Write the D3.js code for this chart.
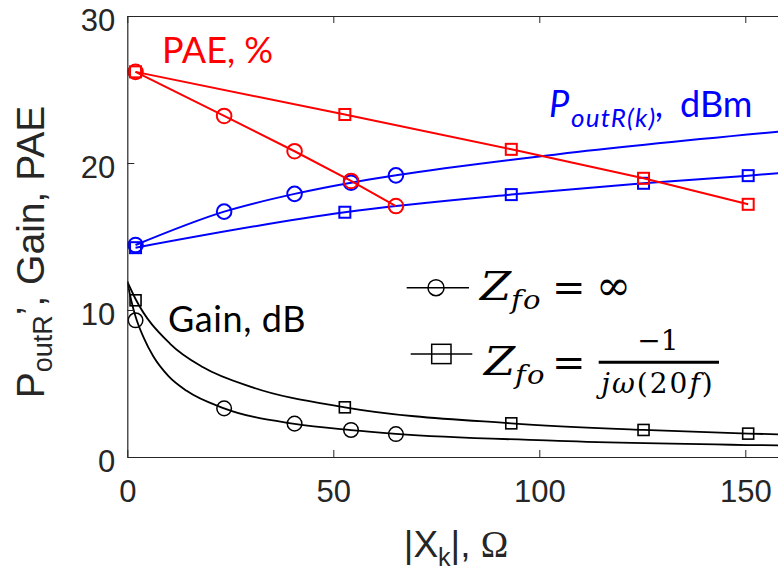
<!DOCTYPE html>
<html>
<head>
<meta charset="utf-8">
<script src="https://cdn.jsdelivr.net/npm/d3@7"></script>
<style>
  html, body { margin: 0; padding: 0; background: #fff; }
  svg { display: block; }
</style>
</head>
<body>
<svg id="chart" width="778" height="579"></svg>
<script>
// Marker positions |X_k| (ohm) for the two load cases
const xCirc = [2, 23.5, 40.6, 54.3, 65.2];     // Z_fo = inf
const xSq   = [2, 52.8, 93.2, 125.3, 150.7];   // Z_fo = -1/(jw(20f))

// Measured values
const paeCirc  = [26.2, 23.2, 20.8, 18.78, 17.07];
const paeSq    = [26.2, 23.3, 20.93, 18.96, 17.19];
const poutCirc = [14.42, 16.69, 17.9, 18.66, 19.16];
const poutSq   = [14.24, 16.65, 17.85, 18.62, 19.14];
const gainCirc = [9.3, 3.31, 2.27, 1.84, 1.56];
const gainSq   = [10.66, 3.38, 2.29, 1.84, 1.59];

// Fitted trend curves
const poutCircFitX = [2, 23.5, 40.6, 54.3, 65.2, 104.6, 160];
const poutCircFitY = [14.42, 16.69, 17.9, 18.66, 19.16, 20.6, 22.18];
const poutSqFitX   = [2, 52.8, 93.2, 125.3, 150.7, 160];
const poutSqFitY   = [14.24, 16.65, 17.85, 18.62, 19.14, 19.35];
const gainCircFitX = [0, 1, 2, 4, 6.3, 10, 14.4, 23.5, 40.6, 54.3, 65.2, 104.6, 160];
const gainCircFitY = [11.93, 10.6, 9.55, 8.1, 6.85, 5.5, 4.5, 3.31, 2.25, 1.83, 1.58, 1.1, 0.78];
const gainSqFitX   = [0, 2, 10.4, 18.4, 30.6, 52.8, 93.2, 125.3, 150.7, 160];
const gainSqFitY   = [11.93, 10.75, 7.7, 6.1, 4.72, 3.38, 2.29, 1.84, 1.59, 1.53];

const xTicks = [0, 50, 100, 150];
const yTicks = [0, 10, 20, 30];

const RED = "#ff0000", BLUE = "#0000ff", BLACK = "#000000", AX = "#262626";

const svg = d3.select("#chart");
const x = d3.scaleLinear().domain([0, 160]).range([127.3, 786.5]);
const y = d3.scaleLinear().domain([0, 30]).range([457, 16]);

svg.append("defs").append("clipPath").attr("id", "plotClip")
  .append("rect")
  .attr("x", x(0)).attr("y", y(30))
  .attr("width", x(160) - x(0)).attr("height", y(0) - y(30));

const zip = (xs, ys) => xs.map((v, i) => [v, ys[i]]);
const line = d3.line().x(d => x(d[0])).y(d => y(d[1]));
const smooth = d3.line().x(d => x(d[0])).y(d => y(d[1])).curve(d3.curveMonotoneX);

const plot = svg.append("g").attr("clip-path", "url(#plotClip)");

function drawCircles(xs, ys, color, sw, r) {
  plot.append("g").selectAll("circle").data(zip(xs, ys)).join("circle")
    .attr("cx", d => x(d[0])).attr("cy", d => y(d[1])).attr("r", r)
    .attr("fill", "none").attr("stroke", color).attr("stroke-width", sw);
}
function drawSquares(xs, ys, color, sw, s) {
  plot.append("g").selectAll("rect").data(zip(xs, ys)).join("rect")
    .attr("x", d => x(d[0]) - s / 2).attr("y", d => y(d[1]) - s / 2)
    .attr("width", s).attr("height", s)
    .attr("fill", "none").attr("stroke", color).attr("stroke-width", sw);
}
function drawPath(pts, gen, color, sw) {
  plot.append("path").datum(pts).attr("d", gen)
    .attr("fill", "none").attr("stroke", color).attr("stroke-width", sw);
}

// Gain (black)
drawPath(zip(gainCircFitX, gainCircFitY), smooth, BLACK, 1.8);
drawPath(zip(gainSqFitX, gainSqFitY), smooth, BLACK, 1.8);
drawCircles(xCirc, gainCirc, BLACK, 1.5, 7.3);
drawSquares(xSq, gainSq, BLACK, 1.6, 11);

// Output power (blue)
drawPath(zip(poutCircFitX, poutCircFitY), smooth, BLUE, 2);
drawPath(zip(poutSqFitX, poutSqFitY), smooth, BLUE, 2);
drawCircles(xCirc, poutCirc, BLUE, 2, 7.3);
drawSquares(xSq, poutSq, BLUE, 2, 11);

// PAE (red)
drawPath(zip(xCirc, paeCirc), line, RED, 2);
drawPath(zip(xSq, paeSq), line, RED, 2);
drawCircles(xCirc, paeCirc, RED, 2, 7.3);
drawSquares(xSq, paeSq, RED, 2, 11);

// Axes with inward ticks
const tickFont = "'Liberation Sans', Arial, sans-serif";
const gL = svg.append("g").attr("transform", `translate(${x(0)},0)`)
  .call(d3.axisLeft(y).tickValues(yTicks).tickSize(-7).tickSizeOuter(0).tickPadding(12));
const gB = svg.append("g").attr("transform", `translate(0,${y(0)})`)
  .call(d3.axisBottom(x).tickValues(xTicks).tickSize(-7).tickSizeOuter(0).tickPadding(23));
const gT = svg.append("g").attr("transform", `translate(0,${y(30)})`)
  .call(d3.axisTop(x).tickValues(xTicks).tickSize(-7).tickSizeOuter(0).tickFormat(""));
[gL, gB, gT].forEach(g => {
  g.select(".domain").attr("stroke", AX).attr("stroke-width", 1.2);
  g.selectAll(".tick line").attr("stroke", AX).attr("stroke-width", 1);
  g.selectAll(".tick text").attr("fill", AX)
    .style("font-family", tickFont).style("font-size", "31px");
});
gL.selectAll(".tick text").attr("dy", "0.47em");

// Axis titles
const yLab = svg.append("text")
  .attr("transform", "translate(44,252) rotate(-90)")
  .attr("text-anchor", "middle").attr("fill", AX)
  .style("font-family", tickFont).style("font-size", "39px");
yLab.append("tspan").text("P");
yLab.append("tspan").attr("dy", 8).style("font-size", "27px").text("outR");
yLab.append("tspan").attr("dy", -8).text("\u2019, Gain, PAE");

const xLab = svg.append("text")
  .attr("x", 456).attr("y", 557)
  .attr("text-anchor", "middle").attr("fill", AX)
  .style("font-family", tickFont).style("font-size", "37px");
xLab.append("tspan").text("|X");
xLab.append("tspan").attr("dy", 9).style("font-size", "25px").text("k");
xLab.append("tspan").attr("dy", -9).text("|, ");
xLab.append("tspan").style("font-family", "'Liberation Serif', serif").text("\u03A9");

// Series annotations
const annFont = "Lato, 'Open Sans', sans-serif";
svg.append("text").attr("x", 162).attr("y", 62.7).attr("fill", RED)
  .style("font-family", annFont).style("font-size", "36px").text("PAE, %");
svg.append("text").attr("x", 168).attr("y", 331.7).attr("fill", BLACK)
  .style("font-family", annFont).style("font-size", "36px")
  .style("letter-spacing", "0.6px").text("Gain, dB");
const pl = svg.append("text").attr("y", 117).attr("fill", BLUE)
  .style("font-family", annFont).style("font-size", "36px");
pl.append("tspan").attr("x", 549).style("font-style", "italic").text("P");
pl.append("tspan").attr("x", 571).attr("dy", 9.5).style("font-style", "italic")
  .style("font-size", "26px").style("letter-spacing", "1.2px").text("outR(k)");
pl.append("tspan").attr("x", 656).attr("dy", -9.5).style("font-style", "italic").text(",");
pl.append("tspan").attr("x", 680).text("dBm");

// Legend
const mathFont = "'DejaVu Serif', serif";
const leg = svg.append("g");
leg.append("line").attr("x1", 406.7).attr("x2", 469).attr("y1", 287.7).attr("y2", 287.7)
  .attr("stroke", BLACK).attr("stroke-width", 1.5);
leg.append("circle").attr("cx", 436).attr("cy", 287.7).attr("r", 8)
  .attr("fill", "none").attr("stroke", BLACK).attr("stroke-width", 1.5);
leg.append("line").attr("x1", 410.7).attr("x2", 472.3).attr("y1", 354).attr("y2", 354)
  .attr("stroke", BLACK).attr("stroke-width", 1.5);
leg.append("rect").attr("x", 431.7).attr("y", 344.3).attr("width", 19.3).attr("height", 19.3)
  .attr("fill", "none").attr("stroke", BLACK).attr("stroke-width", 1.5);

function mathText(tx, ty, str, size, italic, anchor) {
  return leg.append("text").attr("x", tx).attr("y", ty)
    .attr("text-anchor", anchor || "start").attr("fill", BLACK)
    .style("font-family", mathFont).style("font-size", size + "px")
    .style("font-style", italic ? "italic" : "normal").text(str);
}
// Z with subscript fo, one text element
function zfo(tx, ty) {
  const t = leg.append("text")
    .attr("transform", `translate(${tx},${ty}) scale(1.12,1)`)
    .attr("fill", BLACK).style("font-family", mathFont).style("font-style", "italic");
  t.append("tspan").style("font-size", "40px").text("Z");
  t.append("tspan").attr("dy", 8.5).style("font-size", "26px")
    .style("letter-spacing", "1px").text("fo");
}
// Z_fo = inf
zfo(480, 300);
mathText(552, 301, "=", 40, false);
mathText(596, 300, "\u221E", 42, false);
// Z_fo = -1 / (j w (20 f))
zfo(484, 375);
mathText(552, 376, "=", 40, false);
leg.append("line").attr("x1", 598.7).attr("x2", 719).attr("y1", 362.3).attr("y2", 362.3)
  .attr("stroke", BLACK).attr("stroke-width", 3);
mathText(658, 350, "\u22121", 28, false, "middle");
const den = leg.append("text").attr("x", 658).attr("y", 393).attr("text-anchor", "middle")
  .attr("fill", BLACK).style("font-family", mathFont).style("font-size", "28px")
  .style("letter-spacing", "2px");
den.append("tspan").style("font-style", "italic").text("j\u03C9");
den.append("tspan").text("(20");
den.append("tspan").style("font-style", "italic").text("f");
den.append("tspan").text(")");
</script>
</body>
</html>
